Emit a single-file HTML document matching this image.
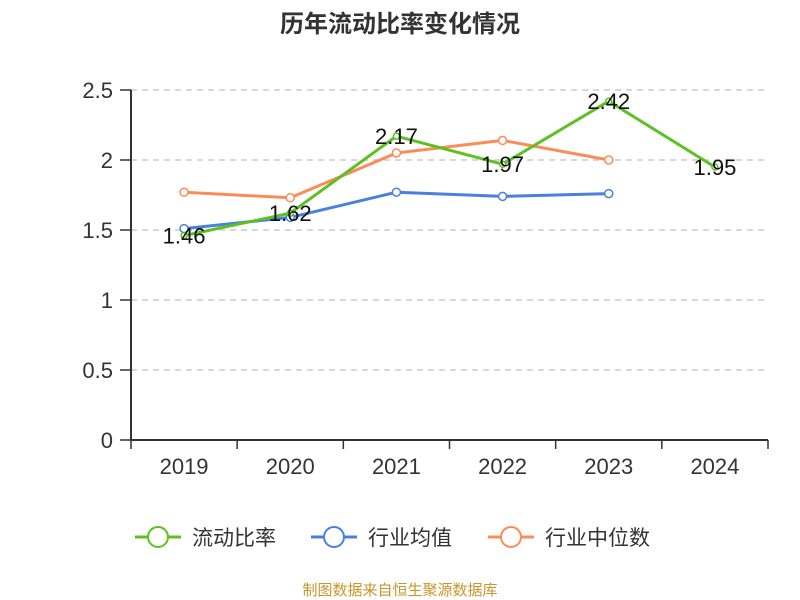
<!DOCTYPE html>
<html><head><meta charset="utf-8"><style>
body{margin:0;background:#fff;}
svg{display:block;font-family:"Liberation Sans","Noto Sans CJK SC",sans-serif;}
</style></head><body>
<svg id="chart" width="800" height="600">
<text x="400" y="32" text-anchor="middle" font-size="24" font-weight="bold" fill="#333">历年流动比率变化情况</text>
<g id="grid"></g><g id="axes"></g><g id="series"></g>
<g>
<g>
<line x1="135" y1="537" x2="181" y2="537" stroke="#5dc122" stroke-width="3"/><circle cx="158" cy="537" r="10" fill="#fff" stroke="#5dc122" stroke-width="2"/>
<text x="192" y="545" font-size="21" fill="#333">流动比率</text></g>
<g>
<line x1="311" y1="537" x2="357" y2="537" stroke="#4a7fe0" stroke-width="3"/><circle cx="334" cy="537" r="10" fill="#fff" stroke="#4a7fe0" stroke-width="2"/>
<text x="368" y="545" font-size="21" fill="#333">行业均值</text></g>
<g>
<line x1="488" y1="537" x2="534" y2="537" stroke="#fb8c5a" stroke-width="3"/><circle cx="511" cy="537" r="10" fill="#fff" stroke="#fb8c5a" stroke-width="2"/>
<text x="545" y="545" font-size="21" fill="#333">行业中位数</text></g>
</g>
<text x="400" y="595" text-anchor="middle" font-size="15" fill="#c8962a">制图数据来自恒生聚源数据库</text>
</svg>
<script>
const categories=["2019","2020","2021","2022","2023","2024"];
const ratioValues=[1.46,1.62,2.17,1.97,2.42,1.95];
const avgValues=[1.51,1.59,1.77,1.74,1.76];
const medianValues=[1.77,1.73,2.05,2.14,2.00];
const yTicks=[0,0.5,1,1.5,2,2.5];
const NS="http://www.w3.org/2000/svg";
const x0=131,x1=768,y0=440,yTop=90,yMax=2.5;
const band=(x1-x0)/categories.length;
const xs=i=>x0+band*(i+0.5);
const ys=v=>y0-(v/yMax)*(y0-yTop);
function mk(tag,attrs,parent,text){const e=document.createElementNS(NS,tag);for(const k in attrs)e.setAttribute(k,attrs[k]);if(text!=null)e.textContent=text;parent.appendChild(e);return e;}
const grid=document.getElementById('grid'),axes=document.getElementById('axes'),series=document.getElementById('series');
yTicks.forEach(t=>{
  if(t>0){const l=mk('line',{x1:x0,x2:x1,y1:ys(t),y2:ys(t),stroke:'#ccc','stroke-dasharray':'6,5','stroke-width':1.5},grid);
  
  }
  const tk=mk('line',{x1:x0-11,x2:x0,y1:ys(t),y2:ys(t),stroke:'#333','stroke-width':1.5},axes);
  
  
  const tl=mk('text',{x:113,y:ys(t)+8,'text-anchor':'end','font-size':22,fill:'#333'},axes,String(t));
  
  
});
const ya=mk('line',{x1:x0,x2:x0,y1:yTop,y2:y0,stroke:'#333','stroke-width':2},axes);


const xa=mk('line',{x1:x0,x2:x1,y1:y0,y2:y0,stroke:'#333','stroke-width':2},axes);


for(let i=0;i<=categories.length;i++){const t=mk('line',{x1:x0+band*i,x2:x0+band*i,y1:y0,y2:y0+9,stroke:'#333','stroke-width':1.5},axes);

}
categories.forEach((c,i)=>{const t=mk('text',{x:xs(i),y:474,'text-anchor':'middle','font-size':22,fill:'#333'},axes,c);

});
function line(vals,color,name,r){
  const pts=vals.map((v,i)=>xs(i)+','+ys(v)).join(' ');
  const p=mk('polyline',{points:pts,fill:'none',stroke:color,'stroke-width':3,'stroke-linejoin':'round'},series);
  
  
  vals.forEach((v,i)=>{const c=mk('circle',{cx:xs(i),cy:ys(v),r:r,fill:'#fff',stroke:color,'stroke-width':1.5},series);
  
  });
}
line(medianValues,'#fb8c5a','industry-median',4);
line(avgValues,'#4a7fe0','industry-average',4);
line(ratioValues,'#5dc122','current-ratio',3);
ratioValues.forEach((v,i)=>{const t=mk('text',{x:xs(i),y:ys(v)+8,'text-anchor':'middle','font-size':22,fill:'#111'},series,v.toFixed(2));

});
</script>
</body></html>
